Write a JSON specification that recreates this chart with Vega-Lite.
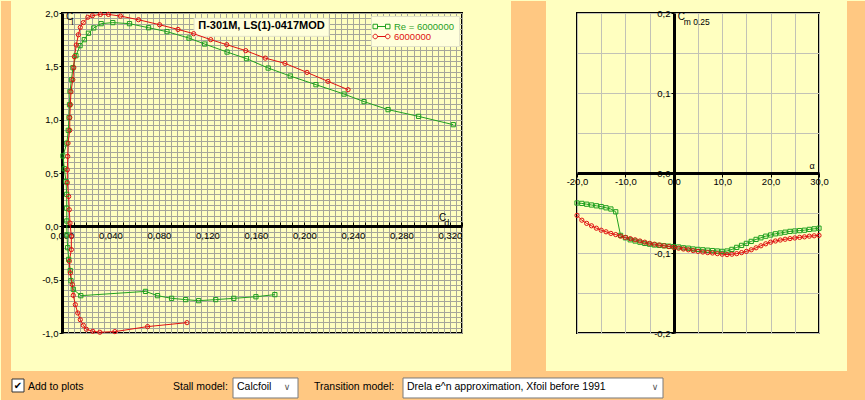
{
  "$schema": "https://vega.github.io/schema/vega-lite/v6.json",
  "background": "#FFFFC0",
  "padding": 0,
  "autosize": {"type": "pad"},
  "bounds": "flush",
  "spacing": 115,
  "config": {
    "view": {"stroke": "#000000", "strokeWidth": 2},
    "locale": {"number": {"decimal": ",", "thousands": ".", "grouping": [3], "currency": ["", ""], "minus": "-"}},
    "font": "Liberation Sans",
    "text": {"font": "Liberation Sans", "color": "#000000"},
    "axis": {"labelFont": "Liberation Sans", "labelFontSize": 9.5, "labelColor": "#000000", "domainColor": "#000000", "tickColor": "#000000", "labelFlush": false, "labelOverlap": false, "labelBound": false}
  },
  "resolve": {"scale": {"color": "independent", "shape": "independent"}, "legend": {"color": "independent", "shape": "independent"}},
  "datasets": {
    "polar": [
      {"s": "Re = 6000000", "i": 1, "cd": 0.1756, "cl": -0.640},
      {"s": "Re = 6000000", "i": 2, "cd": 0.1600, "cl": -0.660},
      {"s": "Re = 6000000", "i": 3, "cd": 0.1417, "cl": -0.675},
      {"s": "Re = 6000000", "i": 4, "cd": 0.1268, "cl": -0.687},
      {"s": "Re = 6000000", "i": 5, "cd": 0.1127, "cl": -0.697},
      {"s": "Re = 6000000", "i": 6, "cd": 0.1020, "cl": -0.687},
      {"s": "Re = 6000000", "i": 7, "cd": 0.0904, "cl": -0.675},
      {"s": "Re = 6000000", "i": 8, "cd": 0.0788, "cl": -0.650},
      {"s": "Re = 6000000", "i": 9, "cd": 0.0689, "cl": -0.610},
      {"s": "Re = 6000000", "i": 10, "cd": 0.0155, "cl": -0.650},
      {"s": "Re = 6000000", "i": 11, "cd": 0.0093, "cl": -0.590},
      {"s": "Re = 6000000", "i": 12, "cd": 0.0074, "cl": -0.510},
      {"s": "Re = 6000000", "i": 13, "cd": 0.0068, "cl": -0.415},
      {"s": "Re = 6000000", "i": 14, "cd": 0.0055, "cl": -0.310},
      {"s": "Re = 6000000", "i": 15, "cd": 0.0047, "cl": -0.200},
      {"s": "Re = 6000000", "i": 16, "cd": 0.0041, "cl": -0.080},
      {"s": "Re = 6000000", "i": 17, "cd": 0.0040, "cl": 0.050},
      {"s": "Re = 6000000", "i": 18, "cd": 0.0039, "cl": 0.170},
      {"s": "Re = 6000000", "i": 19, "cd": 0.0039, "cl": 0.300},
      {"s": "Re = 6000000", "i": 20, "cd": 0.0033, "cl": 0.420},
      {"s": "Re = 6000000", "i": 21, "cd": 0.0019, "cl": 0.540},
      {"s": "Re = 6000000", "i": 22, "cd": 0.0008, "cl": 0.660},
      {"s": "Re = 6000000", "i": 23, "cd": 0.0040, "cl": 0.780},
      {"s": "Re = 6000000", "i": 24, "cd": 0.0052, "cl": 0.900},
      {"s": "Re = 6000000", "i": 25, "cd": 0.0058, "cl": 1.020},
      {"s": "Re = 6000000", "i": 26, "cd": 0.0062, "cl": 1.140},
      {"s": "Re = 6000000", "i": 27, "cd": 0.0066, "cl": 1.265},
      {"s": "Re = 6000000", "i": 28, "cd": 0.0078, "cl": 1.375},
      {"s": "Re = 6000000", "i": 29, "cd": 0.0090, "cl": 1.487},
      {"s": "Re = 6000000", "i": 30, "cd": 0.0115, "cl": 1.600},
      {"s": "Re = 6000000", "i": 31, "cd": 0.0149, "cl": 1.694},
      {"s": "Re = 6000000", "i": 32, "cd": 0.0184, "cl": 1.750},
      {"s": "Re = 6000000", "i": 33, "cd": 0.0218, "cl": 1.810},
      {"s": "Re = 6000000", "i": 34, "cd": 0.0262, "cl": 1.860},
      {"s": "Re = 6000000", "i": 35, "cd": 0.0323, "cl": 1.900},
      {"s": "Re = 6000000", "i": 36, "cd": 0.0419, "cl": 1.910},
      {"s": "Re = 6000000", "i": 37, "cd": 0.0557, "cl": 1.900},
      {"s": "Re = 6000000", "i": 38, "cd": 0.0714, "cl": 1.862},
      {"s": "Re = 6000000", "i": 39, "cd": 0.0866, "cl": 1.825},
      {"s": "Re = 6000000", "i": 40, "cd": 0.1048, "cl": 1.765},
      {"s": "Re = 6000000", "i": 41, "cd": 0.1177, "cl": 1.709},
      {"s": "Re = 6000000", "i": 42, "cd": 0.1362, "cl": 1.634},
      {"s": "Re = 6000000", "i": 43, "cd": 0.1522, "cl": 1.572},
      {"s": "Re = 6000000", "i": 44, "cd": 0.1701, "cl": 1.484},
      {"s": "Re = 6000000", "i": 45, "cd": 0.1883, "cl": 1.409},
      {"s": "Re = 6000000", "i": 46, "cd": 0.2095, "cl": 1.328},
      {"s": "Re = 6000000", "i": 47, "cd": 0.2327, "cl": 1.240},
      {"s": "Re = 6000000", "i": 48, "cd": 0.2492, "cl": 1.169},
      {"s": "Re = 6000000", "i": 49, "cd": 0.2690, "cl": 1.094},
      {"s": "Re = 6000000", "i": 50, "cd": 0.2942, "cl": 1.031},
      {"s": "Re = 6000000", "i": 51, "cd": 0.3228, "cl": 0.953},
      {"s": "6000000", "i": 1, "cd": 0.1031, "cl": -0.903},
      {"s": "6000000", "i": 2, "cd": 0.0706, "cl": -0.940},
      {"s": "6000000", "i": 3, "cd": 0.0436, "cl": -0.987},
      {"s": "6000000", "i": 4, "cd": 0.0312, "cl": -0.993},
      {"s": "6000000", "i": 5, "cd": 0.0254, "cl": -0.984},
      {"s": "6000000", "i": 6, "cd": 0.0201, "cl": -0.965},
      {"s": "6000000", "i": 7, "cd": 0.0176, "cl": -0.928},
      {"s": "6000000", "i": 8, "cd": 0.0151, "cl": -0.875},
      {"s": "6000000", "i": 9, "cd": 0.0130, "cl": -0.812},
      {"s": "6000000", "i": 10, "cd": 0.0110, "cl": -0.734},
      {"s": "6000000", "i": 11, "cd": 0.0093, "cl": -0.647},
      {"s": "6000000", "i": 12, "cd": 0.0085, "cl": -0.546},
      {"s": "6000000", "i": 13, "cd": 0.0069, "cl": -0.437},
      {"s": "6000000", "i": 14, "cd": 0.0060, "cl": -0.328},
      {"s": "6000000", "i": 15, "cd": 0.0077, "cl": -0.218},
      {"s": "6000000", "i": 16, "cd": 0.0077, "cl": -0.094},
      {"s": "6000000", "i": 17, "cd": 0.0066, "cl": 0.031},
      {"s": "6000000", "i": 18, "cd": 0.0060, "cl": 0.156},
      {"s": "6000000", "i": 19, "cd": 0.0055, "cl": 0.280},
      {"s": "6000000", "i": 20, "cd": 0.0044, "cl": 0.410},
      {"s": "6000000", "i": 21, "cd": 0.0044, "cl": 0.530},
      {"s": "6000000", "i": 22, "cd": 0.0047, "cl": 0.656},
      {"s": "6000000", "i": 23, "cd": 0.0050, "cl": 0.780},
      {"s": "6000000", "i": 24, "cd": 0.0064, "cl": 0.900},
      {"s": "6000000", "i": 25, "cd": 0.0064, "cl": 1.020},
      {"s": "6000000", "i": 26, "cd": 0.0069, "cl": 1.140},
      {"s": "6000000", "i": 27, "cd": 0.0074, "cl": 1.262},
      {"s": "6000000", "i": 28, "cd": 0.0089, "cl": 1.375},
      {"s": "6000000", "i": 29, "cd": 0.0097, "cl": 1.487},
      {"s": "6000000", "i": 30, "cd": 0.0102, "cl": 1.590},
      {"s": "6000000", "i": 31, "cd": 0.0118, "cl": 1.700},
      {"s": "6000000", "i": 32, "cd": 0.0135, "cl": 1.796},
      {"s": "6000000", "i": 33, "cd": 0.0151, "cl": 1.865},
      {"s": "6000000", "i": 34, "cd": 0.0176, "cl": 1.910},
      {"s": "6000000", "i": 35, "cd": 0.0213, "cl": 1.960},
      {"s": "6000000", "i": 36, "cd": 0.0251, "cl": 1.975},
      {"s": "6000000", "i": 37, "cd": 0.0317, "cl": 1.987},
      {"s": "6000000", "i": 38, "cd": 0.0383, "cl": 1.987},
      {"s": "6000000", "i": 39, "cd": 0.0482, "cl": 1.971},
      {"s": "6000000", "i": 40, "cd": 0.0631, "cl": 1.937},
      {"s": "6000000", "i": 41, "cd": 0.0805, "cl": 1.890},
      {"s": "6000000", "i": 42, "cd": 0.0957, "cl": 1.846},
      {"s": "6000000", "i": 43, "cd": 0.1086, "cl": 1.806},
      {"s": "6000000", "i": 44, "cd": 0.1227, "cl": 1.750},
      {"s": "6000000", "i": 45, "cd": 0.1359, "cl": 1.703},
      {"s": "6000000", "i": 46, "cd": 0.1516, "cl": 1.647},
      {"s": "6000000", "i": 47, "cd": 0.1677, "cl": 1.577},
      {"s": "6000000", "i": 48, "cd": 0.1839, "cl": 1.528},
      {"s": "6000000", "i": 49, "cd": 0.2021, "cl": 1.443},
      {"s": "6000000", "i": 50, "cd": 0.2194, "cl": 1.359},
      {"s": "6000000", "i": 51, "cd": 0.2360, "cl": 1.281}
    ],
    "cm": [
      {"s": "Re = 6000000", "a": -20, "cm": -0.0375},
      {"s": "Re = 6000000", "a": -19, "cm": -0.038},
      {"s": "Re = 6000000", "a": -18, "cm": -0.039},
      {"s": "Re = 6000000", "a": -17, "cm": -0.040},
      {"s": "Re = 6000000", "a": -16, "cm": -0.041},
      {"s": "Re = 6000000", "a": -15, "cm": -0.042},
      {"s": "Re = 6000000", "a": -14, "cm": -0.0435},
      {"s": "Re = 6000000", "a": -13, "cm": -0.045},
      {"s": "Re = 6000000", "a": -12, "cm": -0.0485},
      {"s": "Re = 6000000", "a": -11, "cm": -0.078},
      {"s": "Re = 6000000", "a": -10, "cm": -0.081},
      {"s": "Re = 6000000", "a": -9, "cm": -0.0835},
      {"s": "Re = 6000000", "a": -8, "cm": -0.085},
      {"s": "Re = 6000000", "a": -7, "cm": -0.0865},
      {"s": "Re = 6000000", "a": -6, "cm": -0.088},
      {"s": "Re = 6000000", "a": -5, "cm": -0.089},
      {"s": "Re = 6000000", "a": -4, "cm": -0.090},
      {"s": "Re = 6000000", "a": -3, "cm": -0.0905},
      {"s": "Re = 6000000", "a": -2, "cm": -0.091},
      {"s": "Re = 6000000", "a": -1, "cm": -0.0915},
      {"s": "Re = 6000000", "a": 0, "cm": -0.092},
      {"s": "Re = 6000000", "a": 1, "cm": -0.0925},
      {"s": "Re = 6000000", "a": 2, "cm": -0.0935},
      {"s": "Re = 6000000", "a": 3, "cm": -0.094},
      {"s": "Re = 6000000", "a": 4, "cm": -0.095},
      {"s": "Re = 6000000", "a": 5, "cm": -0.0955},
      {"s": "Re = 6000000", "a": 6, "cm": -0.096},
      {"s": "Re = 6000000", "a": 7, "cm": -0.0965},
      {"s": "Re = 6000000", "a": 8, "cm": -0.097},
      {"s": "Re = 6000000", "a": 9, "cm": -0.0975},
      {"s": "Re = 6000000", "a": 10, "cm": -0.098},
      {"s": "Re = 6000000", "a": 11, "cm": -0.0975},
      {"s": "Re = 6000000", "a": 12, "cm": -0.0955},
      {"s": "Re = 6000000", "a": 13, "cm": -0.093},
      {"s": "Re = 6000000", "a": 14, "cm": -0.0905},
      {"s": "Re = 6000000", "a": 15, "cm": -0.088},
      {"s": "Re = 6000000", "a": 16, "cm": -0.0855},
      {"s": "Re = 6000000", "a": 17, "cm": -0.083},
      {"s": "Re = 6000000", "a": 18, "cm": -0.081},
      {"s": "Re = 6000000", "a": 19, "cm": -0.079},
      {"s": "Re = 6000000", "a": 20, "cm": -0.0775},
      {"s": "Re = 6000000", "a": 21, "cm": -0.076},
      {"s": "Re = 6000000", "a": 22, "cm": -0.075},
      {"s": "Re = 6000000", "a": 23, "cm": -0.074},
      {"s": "Re = 6000000", "a": 24, "cm": -0.073},
      {"s": "Re = 6000000", "a": 25, "cm": -0.0725},
      {"s": "Re = 6000000", "a": 26, "cm": -0.072},
      {"s": "Re = 6000000", "a": 27, "cm": -0.0715},
      {"s": "Re = 6000000", "a": 28, "cm": -0.0705},
      {"s": "Re = 6000000", "a": 29, "cm": -0.0698},
      {"s": "Re = 6000000", "a": 30, "cm": -0.069},
      {"s": "6000000", "a": -20, "cm": -0.053},
      {"s": "6000000", "a": -19, "cm": -0.059},
      {"s": "6000000", "a": -18, "cm": -0.063},
      {"s": "6000000", "a": -17, "cm": -0.066},
      {"s": "6000000", "a": -16, "cm": -0.069},
      {"s": "6000000", "a": -15, "cm": -0.0715},
      {"s": "6000000", "a": -14, "cm": -0.0735},
      {"s": "6000000", "a": -13, "cm": -0.0755},
      {"s": "6000000", "a": -12, "cm": -0.077},
      {"s": "6000000", "a": -11, "cm": -0.079},
      {"s": "6000000", "a": -10, "cm": -0.0805},
      {"s": "6000000", "a": -9, "cm": -0.082},
      {"s": "6000000", "a": -8, "cm": -0.0835},
      {"s": "6000000", "a": -7, "cm": -0.085},
      {"s": "6000000", "a": -6, "cm": -0.0865},
      {"s": "6000000", "a": -5, "cm": -0.088},
      {"s": "6000000", "a": -4, "cm": -0.089},
      {"s": "6000000", "a": -3, "cm": -0.090},
      {"s": "6000000", "a": -2, "cm": -0.091},
      {"s": "6000000", "a": -1, "cm": -0.092},
      {"s": "6000000", "a": 0, "cm": -0.093},
      {"s": "6000000", "a": 1, "cm": -0.094},
      {"s": "6000000", "a": 2, "cm": -0.095},
      {"s": "6000000", "a": 3, "cm": -0.096},
      {"s": "6000000", "a": 4, "cm": -0.097},
      {"s": "6000000", "a": 5, "cm": -0.098},
      {"s": "6000000", "a": 6, "cm": -0.0988},
      {"s": "6000000", "a": 7, "cm": -0.0995},
      {"s": "6000000", "a": 8, "cm": -0.100},
      {"s": "6000000", "a": 9, "cm": -0.1008},
      {"s": "6000000", "a": 10, "cm": -0.1015},
      {"s": "6000000", "a": 11, "cm": -0.102},
      {"s": "6000000", "a": 12, "cm": -0.1015},
      {"s": "6000000", "a": 13, "cm": -0.1008},
      {"s": "6000000", "a": 14, "cm": -0.0995},
      {"s": "6000000", "a": 15, "cm": -0.098},
      {"s": "6000000", "a": 16, "cm": -0.096},
      {"s": "6000000", "a": 17, "cm": -0.0935},
      {"s": "6000000", "a": 18, "cm": -0.091},
      {"s": "6000000", "a": 19, "cm": -0.0885},
      {"s": "6000000", "a": 20, "cm": -0.0865},
      {"s": "6000000", "a": 21, "cm": -0.085},
      {"s": "6000000", "a": 22, "cm": -0.0838},
      {"s": "6000000", "a": 23, "cm": -0.0828},
      {"s": "6000000", "a": 24, "cm": -0.082},
      {"s": "6000000", "a": 25, "cm": -0.0812},
      {"s": "6000000", "a": 26, "cm": -0.0805},
      {"s": "6000000", "a": 27, "cm": -0.0798},
      {"s": "6000000", "a": 28, "cm": -0.079},
      {"s": "6000000", "a": 29, "cm": -0.0785},
      {"s": "6000000", "a": 30, "cm": -0.078}
    ]
  },
  "hconcat": [
    {
      "width": 400,
      "height": 320,
      "data": {"name": "polar"},
      "resolve": {"axis": {"x": "independent", "y": "independent"}},
      "layer": [
        {
          "data": {"values": [{}]},
          "mark": {"type": "rect", "color": "#FFC882"},
          "encoding": {
            "x": {"datum": -0.050325, "type": "quantitative", "axis": null},
            "x2": {"datum": -0.042075},
            "y": {"datum": 2.1125, "type": "quantitative", "axis": null},
            "y2": {"datum": -1.35625}
          }
        },
        {
          "data": {"values": [{}]},
          "mark": {"type": "rect", "color": "#FFC882"},
          "encoding": {
            "x": {"datum": 0.370425, "type": "quantitative", "axis": null},
            "x2": {"datum": 0.3993},
            "y": {"datum": 2.1125, "type": "quantitative", "axis": null},
            "y2": {"datum": -1.35625}
          }
        },
        {
          "data": {"values": [{}]},
          "mark": {"type": "rect", "color": "#FFC882"},
          "encoding": {
            "x": {"datum": 0.647625, "type": "quantitative", "axis": null},
            "x2": {"datum": 0.6633},
            "y": {"datum": 2.1125, "type": "quantitative", "axis": null},
            "y2": {"datum": -1.35625}
          }
        },
        {
          "data": {"values": [{}]},
          "mark": {"type": "rect", "color": "#FFC882"},
          "encoding": {
            "x": {"datum": -0.050325, "type": "quantitative", "axis": null},
            "x2": {"datum": 0.6633},
            "y": {"datum": -1.35625, "type": "quantitative", "axis": null},
            "y2": {"datum": -1.6375}
          }
        },
        {
          "data": {"values": [{}]},
          "mark": {"type": "rect", "fill": "#FFFFFF", "stroke": "#333333", "strokeWidth": 1},
          "encoding": {
            "x": {"datum": -0.04125, "type": "quantitative", "axis": null},
            "x2": {"datum": -0.03135},
            "y": {"datum": -1.43125, "type": "quantitative", "axis": null},
            "y2": {"datum": -1.55312}
          }
        },
        {
          "data": {"values": [{}]},
          "mark": {"type": "text", "text": "✔", "font": "DejaVu Sans", "fontSize": 10, "align": "center", "baseline": "middle", "color": "#000000"},
          "encoding": {
            "x": {"datum": -0.0363, "type": "quantitative", "axis": null},
            "y": {"datum": -1.49219, "type": "quantitative", "axis": null}
          }
        },
        {
          "data": {"values": [{}]},
          "mark": {"type": "text", "text": "Add to plots", "fontSize": 10.5, "align": "left", "baseline": "middle"},
          "encoding": {
            "x": {"datum": -0.02805, "type": "quantitative", "axis": null},
            "y": {"datum": -1.50625, "type": "quantitative", "axis": null}
          }
        },
        {
          "data": {"values": [{}]},
          "mark": {"type": "text", "text": "Stall model:", "fontSize": 10.5, "align": "left", "baseline": "middle"},
          "encoding": {
            "x": {"datum": 0.091575, "type": "quantitative", "axis": null},
            "y": {"datum": -1.50625, "type": "quantitative", "axis": null}
          }
        },
        {
          "data": {"values": [{}]},
          "mark": {"type": "rect", "fill": "#FFFFFF", "stroke": "#7A7A7A", "strokeWidth": 1},
          "encoding": {
            "x": {"datum": 0.141075, "type": "quantitative", "axis": null},
            "x2": {"datum": 0.1947},
            "y": {"datum": -1.42187, "type": "quantitative", "axis": null},
            "y2": {"datum": -1.60937}
          }
        },
        {
          "data": {"values": [{}]},
          "mark": {"type": "text", "text": "Calcfoil", "fontSize": 10.5, "align": "left", "baseline": "middle"},
          "encoding": {
            "x": {"datum": 0.144375, "type": "quantitative", "axis": null},
            "y": {"datum": -1.51, "type": "quantitative", "axis": null}
          }
        },
        {
          "data": {"values": [{}]},
          "mark": {"type": "text", "text": "∨", "font": "DejaVu Sans", "fontSize": 9, "align": "center", "baseline": "middle", "color": "#555555"},
          "encoding": {
            "x": {"datum": 0.185625, "type": "quantitative", "axis": null},
            "y": {"datum": -1.51, "type": "quantitative", "axis": null}
          }
        },
        {
          "data": {"values": [{}]},
          "mark": {"type": "text", "text": "Transition model:", "fontSize": 10.5, "align": "left", "baseline": "middle"},
          "encoding": {
            "x": {"datum": 0.2079, "type": "quantitative", "axis": null},
            "y": {"datum": -1.50625, "type": "quantitative", "axis": null}
          }
        },
        {
          "data": {"values": [{}]},
          "mark": {"type": "rect", "fill": "#FFFFFF", "stroke": "#7A7A7A", "strokeWidth": 1},
          "encoding": {
            "x": {"datum": 0.281325, "type": "quantitative", "axis": null},
            "x2": {"datum": 0.495825},
            "y": {"datum": -1.42187, "type": "quantitative", "axis": null},
            "y2": {"datum": -1.60937}
          }
        },
        {
          "data": {"values": [{}]},
          "mark": {"type": "text", "text": "Drela e^n approximation, Xfoil before 1991", "fontSize": 10.5, "align": "left", "baseline": "middle"},
          "encoding": {
            "x": {"datum": 0.284625, "type": "quantitative", "axis": null},
            "y": {"datum": -1.51, "type": "quantitative", "axis": null}
          }
        },
        {
          "data": {"values": [{}]},
          "mark": {"type": "text", "text": "∨", "font": "DejaVu Sans", "fontSize": 9, "align": "center", "baseline": "middle", "color": "#555555"},
          "encoding": {
            "x": {"datum": 0.489225, "type": "quantitative", "axis": null},
            "y": {"datum": -1.51, "type": "quantitative", "axis": null}
          }
        },
        {
          "data": {"values": [{}]},
          "mark": {"type": "rect", "fill": "#FFFFDC", "stroke": "#E2E2C8", "strokeWidth": 1},
          "encoding": {
            "x": {"datum": 0.1089, "type": "quantitative", "axis": null},
            "x2": {"datum": 0.2203},
            "y": {"datum": 1.95, "type": "quantitative", "axis": null},
            "y2": {"datum": 1.78125}
          }
        },
        {
          "data": {"values": [{}]},
          "mark": {"type": "text", "text": "П-301M, LS(1)-0417MOD", "fontSize": 11, "fontWeight": "bold", "align": "center", "baseline": "middle"},
          "encoding": {
            "x": {"datum": 0.1646, "type": "quantitative", "axis": null},
            "y": {"datum": 1.875, "type": "quantitative", "axis": null}
          }
        },
        {
          "mark": {"type": "line", "strokeWidth": 1},
          "encoding": {
            "x": {"field": "cd", "type": "quantitative", "scale": {"domain": [0, 0.33], "nice": false, "zero": false},
              "axis": {"orient": "bottom", "title": null, "labels": false, "ticks": false, "domain": false, "grid": true, "gridColor": "#A6A69A", "gridWidth": 1, "gridOpacity": 1,
                "values": [0,0.005,0.01,0.015,0.02,0.025,0.03,0.035,0.04,0.045,0.05,0.055,0.06,0.065,0.07,0.075,0.08,0.085,0.09,0.095,0.1,0.105,0.11,0.115,0.12,0.125,0.13,0.135,0.14,0.145,0.15,0.155,0.16,0.165,0.17,0.175,0.18,0.185,0.19,0.195,0.2,0.205,0.21,0.215,0.22,0.225,0.23,0.235,0.24,0.245,0.25,0.255,0.26,0.265,0.27,0.275,0.28,0.285,0.29,0.295,0.3,0.305,0.31,0.315,0.32,0.325,0.33]}},
            "y": {"field": "cl", "type": "quantitative", "scale": {"domain": [-1, 2], "nice": false, "zero": false},
              "axis": {"orient": "left", "title": null, "labels": false, "ticks": false, "domain": false, "grid": true, "gridColor": "#A6A69A", "gridWidth": 1, "gridOpacity": 1,
                "values": [-1,-0.95,-0.9,-0.85,-0.8,-0.75,-0.7,-0.65,-0.6,-0.55,-0.5,-0.45,-0.4,-0.35,-0.3,-0.25,-0.2,-0.15,-0.1,-0.05,0,0.05,0.1,0.15,0.2,0.25,0.3,0.35,0.4,0.45,0.5,0.55,0.6,0.65,0.7,0.75,0.8,0.85,0.9,0.95,1,1.05,1.1,1.15,1.2,1.25,1.3,1.35,1.4,1.45,1.5,1.55,1.6,1.65,1.7,1.75,1.8,1.85,1.9,1.95,2]}},
            "color": {"field": "s", "type": "nominal", "scale": {"domain": ["Re = 6000000", "6000000"], "range": ["#1FA01F", "#E01010"]},
              "legend": {"orient": "none", "legendX": 309, "legendY": 3, "title": null, "fillColor": "#FFFFDC", "strokeColor": "#E2E2C8", "padding": 5, "rowPadding": 0, "labelFontSize": 9.5, "labelFont": "Liberation Sans", "symbolSize": 100, "symbolStrokeWidth": 1, "labelOffset": 7,
                "encode": {"labels": {"update": {"fill": {"signal": "datum.value === '6000000' ? '#E01010' : '#1FA01F'"}}}}}},
            "order": {"field": "i"}
          }
        },
        {
          "transform": [{"filter": "false"}],
          "mark": {"type": "point", "filled": false, "strokeWidth": 1, "opacity": 1},
          "encoding": {
            "x": {"field": "cd", "type": "quantitative", "axis": null},
            "y": {"field": "cl", "type": "quantitative", "axis": null},
            "color": {"field": "s", "type": "nominal", "scale": {"domain": ["Re = 6000000", "6000000"], "range": ["#1FA01F", "#E01010"]}, "legend": null},
            "shape": {"field": "s", "type": "nominal",
              "scale": {"domain": ["Re = 6000000", "6000000"], "range": [
                "M-1.7,-0.45H-0.8V0.45H-1.7ZM-0.8,0H0.8M0.8,-0.45H1.7V0.45H0.8Z",
                "M-1.7,0A0.45,0.45 0 1,0 -0.8,0A0.45,0.45 0 1,0 -1.7,0ZM-0.8,0H0.8M0.8,0A0.45,0.45 0 1,0 1.7,0A0.45,0.45 0 1,0 0.8,0Z"]},
              "legend": {"orient": "none", "legendX": 309, "legendY": 3, "title": null, "fillColor": "#FFFFDC", "strokeColor": "#E2E2C8", "padding": 5, "rowPadding": 0, "labelFontSize": 9.5, "labelFont": "Liberation Sans", "symbolSize": 100, "symbolStrokeWidth": 1, "labelOffset": 7,
                "encode": {"labels": {"update": {"fill": {"signal": "datum.value === '6000000' ? '#E01010' : '#1FA01F'"}}}}}}
          }
        },
        {
          "transform": [{"filter": "datum.s === 'Re = 6000000'"}],
          "mark": {"type": "point", "shape": "square", "filled": false, "strokeWidth": 1, "opacity": 1, "size": 18},
          "encoding": {
            "x": {"field": "cd", "type": "quantitative", "scale": {"domain": [0, 0.33], "nice": false, "zero": false},
              "axis": {"orient": "bottom", "offset": -107, "title": null, "grid": false, "domain": true, "domainWidth": 3, "ticks": true, "tickSize": -4, "tickWidth": 1, "labelPadding": 8, "format": ".3f",
                "labelExpr": "round(datum.value * 1000) % 40 == 0 ? datum.label : ''",
                "values": [0,0.01,0.02,0.03,0.04,0.05,0.06,0.07,0.08,0.09,0.1,0.11,0.12,0.13,0.14,0.15,0.16,0.17,0.18,0.19,0.2,0.21,0.22,0.23,0.24,0.25,0.26,0.27,0.28,0.29,0.3,0.31,0.32,0.33]}},
            "y": {"field": "cl", "type": "quantitative", "scale": {"domain": [-1, 2], "nice": false, "zero": false},
              "axis": {"orient": "left", "title": null, "grid": false, "domain": true, "domainWidth": 3, "ticks": true, "tickSize": 3, "tickWidth": 1, "labelPadding": 1, "format": ".1f",
                "values": [-1, -0.5, 0, 0.5, 1, 1.5, 2]}},
            "color": {"field": "s", "type": "nominal", "scale": {"domain": ["Re = 6000000", "6000000"], "range": ["#1FA01F", "#E01010"]}, "legend": null}
          }
        },
        {
          "transform": [{"filter": "datum.s === '6000000'"}],
          "mark": {"type": "point", "shape": "circle", "filled": false, "strokeWidth": 1, "opacity": 1, "size": 18},
          "encoding": {
            "x": {"field": "cd", "type": "quantitative", "axis": null},
            "y": {"field": "cl", "type": "quantitative", "axis": null},
            "color": {"field": "s", "type": "nominal", "scale": {"domain": ["Re = 6000000", "6000000"], "range": ["#1FA01F", "#E01010"]}, "legend": null}
          }
        },
        {
          "data": {"values": [{}]},
          "mark": {"type": "text", "text": "C", "fontSize": 10, "align": "left", "baseline": "middle", "dx": 4, "dy": 4},
          "encoding": {
            "x": {"datum": 0, "type": "quantitative", "axis": null},
            "y": {"datum": 2, "type": "quantitative", "axis": null}
          }
        },
        {
          "data": {"values": [{}]},
          "mark": {"type": "text", "text": "l", "fontSize": 8.5, "align": "left", "baseline": "middle", "dx": 9.5, "dy": 9},
          "encoding": {
            "x": {"datum": 0, "type": "quantitative", "axis": null},
            "y": {"datum": 2, "type": "quantitative", "axis": null}
          }
        },
        {
          "data": {"values": [{}]},
          "mark": {"type": "text", "text": "C", "fontSize": 10, "align": "left", "baseline": "middle", "dx": -11, "dy": -8.5},
          "encoding": {
            "x": {"datum": 0.32, "type": "quantitative", "axis": null},
            "y": {"datum": 0, "type": "quantitative", "axis": null}
          }
        },
        {
          "data": {"values": [{}]},
          "mark": {"type": "text", "text": "d", "fontSize": 8.5, "align": "left", "baseline": "middle", "dx": -5.5, "dy": -3.5},
          "encoding": {
            "x": {"datum": 0.32, "type": "quantitative", "axis": null},
            "y": {"datum": 0, "type": "quantitative", "axis": null}
          }
        }
      ]
    },
    {
      "width": 242,
      "height": 320,
      "data": {"name": "cm"},
      "resolve": {"axis": {"x": "independent", "y": "independent"}},
      "layer": [
        {
          "mark": {"type": "line", "strokeWidth": 1},
          "encoding": {
            "x": {"field": "a", "type": "quantitative", "scale": {"domain": [-20, 30], "nice": false, "zero": false},
              "axis": {"orient": "bottom", "title": null, "labels": false, "ticks": false, "domain": false, "grid": true, "gridColor": "#C2C2B6", "gridWidth": 1, "gridOpacity": 1,
                "values": [-20,-15,-10,-5,0,5,10,15,20,25,30]}},
            "y": {"field": "cm", "type": "quantitative", "scale": {"domain": [-0.2, 0.2], "nice": false, "zero": false},
              "axis": {"orient": "left", "title": null, "labels": false, "ticks": false, "domain": false, "grid": true, "gridColor": "#C2C2B6", "gridWidth": 1, "gridOpacity": 1,
                "values": [-0.2,-0.15,-0.1,-0.05,0,0.05,0.1,0.15,0.2]}},
            "color": {"field": "s", "type": "nominal", "scale": {"domain": ["Re = 6000000", "6000000"], "range": ["#1FA01F", "#E01010"]}, "legend": null}
          }
        },
        {
          "mark": {"type": "point", "filled": false, "strokeWidth": 1, "opacity": 1, "size": 18},
          "encoding": {
            "x": {"field": "a", "type": "quantitative", "scale": {"domain": [-20, 30], "nice": false, "zero": false},
              "axis": {"orient": "bottom", "offset": -160, "title": null, "grid": false, "domain": true, "domainWidth": 3, "ticks": true, "tickSize": 4, "tickWidth": 1, "labelPadding": -1, "format": ".1f",
                "values": [-20,-10,0,10,20,30]}},
            "y": {"field": "cm", "type": "quantitative", "scale": {"domain": [-0.2, 0.2], "nice": false, "zero": false},
              "axis": {"orient": "left", "offset": -97, "title": null, "grid": false, "domain": true, "domainWidth": 3, "ticks": true, "tickSize": 3, "tickWidth": 1, "labelPadding": 1, "format": ".1f",
                "values": [-0.2,-0.1,0,0.1,0.2]}},
            "color": {"field": "s", "type": "nominal", "scale": {"domain": ["Re = 6000000", "6000000"], "range": ["#1FA01F", "#E01010"]}, "legend": null},
            "shape": {"field": "s", "type": "nominal", "scale": {"domain": ["Re = 6000000", "6000000"], "range": ["square", "circle"]}, "legend": null}
          }
        },
        {
          "data": {"values": [{}]},
          "mark": {"type": "text", "text": "C", "fontSize": 10, "align": "left", "baseline": "middle", "dx": 4, "dy": 3.5},
          "encoding": {
            "x": {"datum": 0, "type": "quantitative", "axis": null},
            "y": {"datum": 0.2, "type": "quantitative", "axis": null}
          }
        },
        {
          "data": {"values": [{}]},
          "mark": {"type": "text", "text": "m 0.25", "fontSize": 8.5, "align": "left", "baseline": "middle", "dx": 10, "dy": 9},
          "encoding": {
            "x": {"datum": 0, "type": "quantitative", "axis": null},
            "y": {"datum": 0.2, "type": "quantitative", "axis": null}
          }
        },
        {
          "data": {"values": [{}]},
          "mark": {"type": "text", "text": "α", "fontSize": 9, "align": "center", "baseline": "middle", "dx": -7, "dy": -7.5},
          "encoding": {
            "x": {"datum": 30, "type": "quantitative", "axis": null},
            "y": {"datum": 0, "type": "quantitative", "axis": null}
          }
        }
      ]
    }
  ]
}
